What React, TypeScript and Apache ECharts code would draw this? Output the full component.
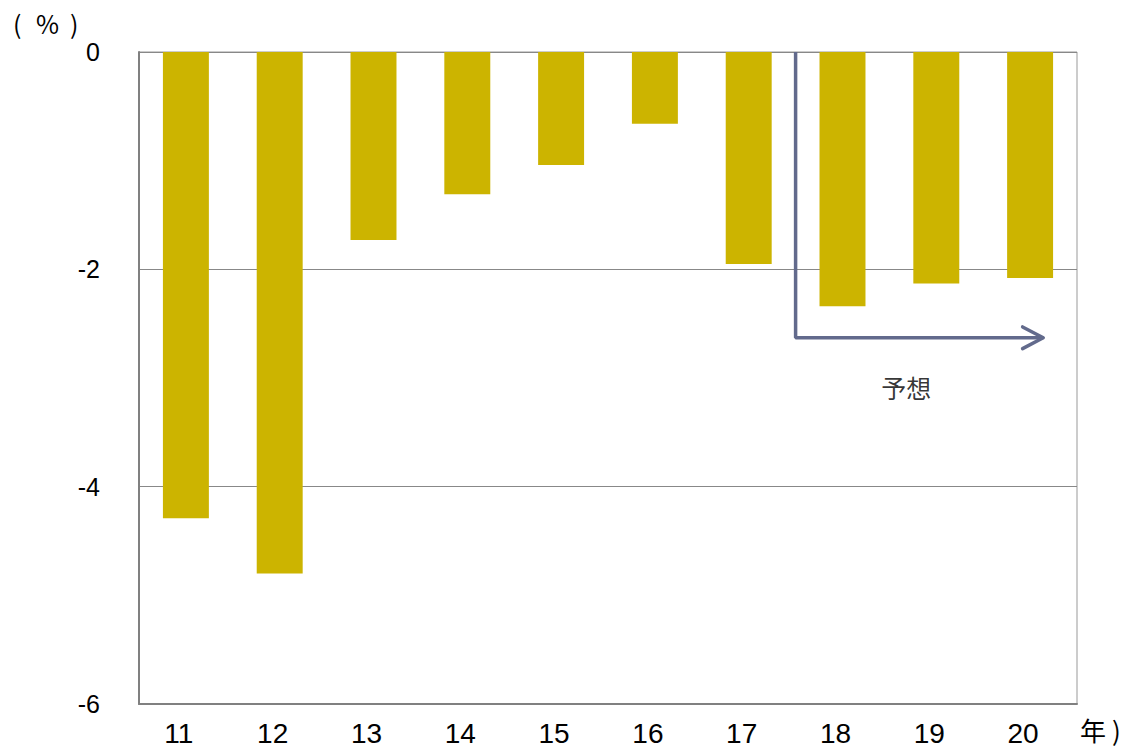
import React, { useEffect, useRef } from "react";
import * as echarts from "echarts";

const categories = ["11", "12", "13", "14", "15", "16", "17", "18", "19", "20"];
const values = [-4.29, -4.8, -1.73, -1.31, -1.04, -0.66, -1.95, -2.34, -2.13, -2.08];
const yTicks = { min: -6, max: 0, interval: 2 };
// forecast arrow, in (category-position, value) units on a hidden 0..10 axis
const arrowPath = [[7.0, 0], [7.0, -2.63], [9.64, -2.63]];
const arrowHead = [[9.42, -2.53], [9.64, -2.63], [9.42, -2.73]];
const forecastLabel = [[8.18, -3.08]];

export default function App() {
  const ref = useRef<HTMLDivElement>(null);
  useEffect(() => {
    document.body.style.margin = "0";
    const chart = echarts.init(ref.current!, null, { renderer: "svg" });
    const font = "'Liberation Sans', Arial, sans-serif";
    const cjk = "'Noto Sans CJK JP', sans-serif";
    chart.setOption({
      animation: false,
      backgroundColor: "#ffffff",
      grid: {
        left: 139,
        right: 54,
        top: 52,
        bottom: 43,
        show: true,
        borderColor: "#999999",
        borderWidth: 1,
      },
      xAxis: [
        {
          type: "category",
          data: categories,
          axisLine: { onZero: false, lineStyle: { color: "#808080", width: 2 } },
          axisTick: { show: false },
          axisLabel: {
            color: "#000",
            fontSize: 28,
            fontFamily: font,
            margin: 15,
            padding: [0, 14, 0, 0],
          },
        },
        {
          type: "value",
          min: 0,
          max: 10,
          show: false,
        },
      ],
      yAxis: {
        type: "value",
        min: yTicks.min,
        max: yTicks.max,
        interval: yTicks.interval,
        axisLine: { show: true, lineStyle: { color: "#808080", width: 2 } },
        axisTick: { show: false },
        splitLine: { lineStyle: { color: "#888888", width: 1 } },
        axisLabel: { color: "#000", fontSize: 25, fontFamily: font, margin: 39 },
      },
      graphic: [
        { type: "text", left: 13, top: 10, style: { text: "(", fill: "#000", font: `25px ${cjk}` } },
        { type: "text", left: 36, top: 10, style: { text: "%", fill: "#000", font: `25px ${cjk}` } },
        { type: "text", left: 70, top: 10, style: { text: ")", fill: "#000", font: `25px ${cjk}` } },
        { type: "text", left: 1080, top: 716, style: { text: "年", fill: "#000", font: `26px ${cjk}` } },
        { type: "text", left: 1112, top: 716, style: { text: ")", fill: "#000", font: `26px ${cjk}` } },
      ],
      series: [
        {
          type: "bar",
          data: values,
          barWidth: "49%",
          itemStyle: { color: "#CCB400" },
          z: 2,
        },
        {
          type: "line",
          xAxisIndex: 1,
          data: arrowPath,
          symbol: "none",
          lineStyle: { color: "#626a8c", width: 3.5 },
          z: 5,
        },
        {
          type: "line",
          xAxisIndex: 1,
          data: arrowHead,
          symbol: "none",
          lineStyle: { color: "#626a8c", width: 3.5, cap: "round", join: "round" },
          z: 5,
        },
        {
          type: "scatter",
          xAxisIndex: 1,
          data: forecastLabel,
          symbolSize: 0,
          label: {
            show: true,
            formatter: "予想",
            position: "inside",
            color: "#000",
            fontSize: 25,
            fontFamily: cjk,
          },
          z: 5,
        },
      ],
    });
    return () => chart.dispose();
  }, []);
  return <div ref={ref} style={{ width: 1131, height: 747 }} />;
}
